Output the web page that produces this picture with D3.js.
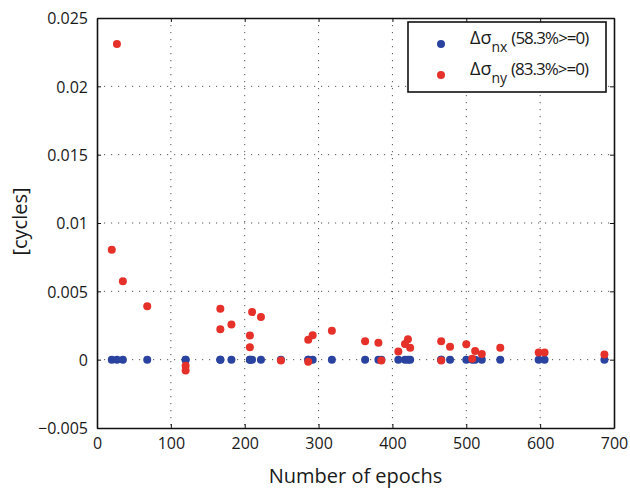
<!DOCTYPE html>
<html>
<head>
<meta charset="utf-8">
<script src="https://cdn.jsdelivr.net/npm/d3@7"></script>
<style>
  body { margin: 0; background: #fff; }
  text { font-family: "Open Sans", "DejaVu Sans", sans-serif; fill: #1a1a1a; }
</style>
</head>
<body>
<div id="chart"></div>
<script>
// Data
var epochs = [20, 27, 35, 68, 120, 120, 167, 167, 182, 207, 207, 210, 222, 249, 286, 286, 292, 318,
    363, 381, 385, 408, 417, 421, 424, 466, 466, 478, 500, 508, 512, 521, 546, 598, 606, 687];
var dSigmaNx = epochs.map(function() { return 0; });
var dSigmaNy = [0.00805, 0.0231, 0.00573, 0.0039, -0.00044, -0.0008, 0.00373, 0.00222, 0.00258,
    0.00176, 0.0009, 0.00349, 0.00312, -0.00007, 0.00146, -0.00015, 0.00178, 0.00212,
    0.00134, 0.00124, -0.00007, 0.00059, 0.00115, 0.00149, 0.00088, 0.00134, -0.00007, 0.00095,
    0.00112, 0.00007, 0.00064, 0.00042, 0.00088, 0.00053, 0.00053, 0.00037];
var xTicks = [0, 100, 200, 300, 400, 500, 600, 700];
var yTicks = [-0.005, 0, 0.005, 0.01, 0.015, 0.02, 0.025];
var yTickLabels = ["\u22120.005", "0", "0.005", "0.01", "0.015", "0.02", "0.025"];

var svgWidth = 630;
var svgHeight = 488;
var margin = { top: 18, right: 16, bottom: 60, left: 97 };
var width = svgWidth - margin.left - margin.right;
var height = svgHeight - margin.top - margin.bottom;

var blue = "#2b43a0";
var red = "#e5312a";

var svg = d3.select("#chart")
    .append("svg")
    .attr("width", svgWidth)
    .attr("height", svgHeight);

var chartGroup = svg.append("g")
    .attr("transform", `translate(${margin.left}, ${margin.top})`);

var x = d3.scaleLinear().domain([0, 700]).range([0, width]);
var y = d3.scaleLinear().domain([-0.005, 0.025]).range([height, 0]);

//Dotted grid
chartGroup.append("g")
    .selectAll("line")
    .data(xTicks.slice(1, -1))
    .enter()
    .append("line")
    .attr("x1", d => x(d)).attr("x2", d => x(d))
    .attr("y1", 0).attr("y2", height)
    .attr("stroke", "#555")
    .attr("stroke-width", 1)
    .attr("stroke-dasharray", "1.2,5.8");

chartGroup.append("g")
    .selectAll("line")
    .data(yTicks.slice(1, -1))
    .enter()
    .append("line")
    .attr("x1", 0).attr("x2", width)
    .attr("y1", d => y(d)).attr("y2", d => y(d))
    .attr("stroke", "#555")
    .attr("stroke-width", 1)
    .attr("stroke-dasharray", "1.2,5.8");

//Axes with inward ticks on all sides
var bottomAxis = d3.axisBottom(x).tickValues(xTicks).tickSizeInner(-4).tickSizeOuter(0).tickPadding(9);
var topAxis = d3.axisTop(x).tickValues(xTicks).tickSizeInner(-4).tickSizeOuter(0).tickFormat("");
var leftAxis = d3.axisLeft(y).tickValues(yTicks).tickSizeInner(-4).tickSizeOuter(0).tickPadding(9)
    .tickFormat((d, i) => yTickLabels[i]);
var rightAxis = d3.axisRight(y).tickValues(yTicks).tickSizeInner(-4).tickSizeOuter(0).tickFormat("");

var gx = chartGroup.append("g").attr("transform", `translate(0, ${height})`).call(bottomAxis);
var gy = chartGroup.append("g").call(leftAxis);
var gt = chartGroup.append("g").call(topAxis);
var gr = chartGroup.append("g").attr("transform", `translate(${width}, 0)`).call(rightAxis);

[gx, gy, gt, gr].forEach(g => {
    g.select(".domain").attr("stroke", "#111").attr("stroke-width", 1.6);
    g.selectAll(".tick line").attr("stroke", "#111").attr("stroke-width", 1);
    g.selectAll(".tick text")
        .style("font-family", "'Open Sans', sans-serif")
        .style("font-size", "16px")
        .attr("fill", "#1a1a1a");
});
gy.selectAll(".tick text").attr("dy", "0.36em");
gx.selectAll(".tick text").attr("dy", "0.72em");

//Points
chartGroup.append("g")
    .selectAll("circle")
    .data(epochs)
    .enter()
    .append("circle")
    .attr("cx", d => x(d))
    .attr("cy", (d, i) => y(dSigmaNx[i]))
    .attr("r", 4)
    .attr("fill", blue);

chartGroup.append("g")
    .selectAll("circle")
    .data(epochs)
    .enter()
    .append("circle")
    .attr("cx", d => x(d))
    .attr("cy", (d, i) => y(dSigmaNy[i]))
    .attr("r", 4)
    .attr("fill", red);

//Axis labels
chartGroup.append("text")
    .attr("x", width / 2)
    .attr("y", height + 55)
    .attr("text-anchor", "middle")
    .style("font-size", "20px")
    .text("Number of epochs");

chartGroup.append("text")
    .attr("transform", "rotate(-90)")
    .attr("x", -height / 2 + 1.5)
    .attr("y", -70)
    .attr("text-anchor", "middle")
    .style("font-size", "20px")
    .text("[cycles]");

//Legend
var legend = svg.append("g").attr("transform", "translate(408, 22)");
legend.append("rect")
    .attr("width", 198).attr("height", 70)
    .attr("fill", "#fff")
    .attr("stroke", "#111")
    .attr("stroke-width", 1.6);

var legendItems = [
    { color: blue, sub: "nx", pct: "(58.3%>=0)" },
    { color: red, sub: "ny", pct: "(83.3%>=0)" }
];
legendItems.forEach((item, i) => {
    var row = legend.append("g").attr("transform", `translate(0, ${22 + i * 31})`);
    row.append("circle").attr("cx", 33).attr("cy", 0).attr("r", 4).attr("fill", item.color);
    var t = row.append("text").attr("x", 62).attr("y", 0).style("font-size", "18px");
    t.append("tspan").text("\u0394\u03c3");
    t.append("tspan").attr("dy", 8).style("font-size", "14px").text(item.sub);
    t.append("tspan").attr("dy", -8).attr("dx", 4)
        .style("font-size", "17px")
        .attr("textLength", 78).attr("lengthAdjust", "spacing")
        .text(item.pct);
});
</script>
</body>
</html>
